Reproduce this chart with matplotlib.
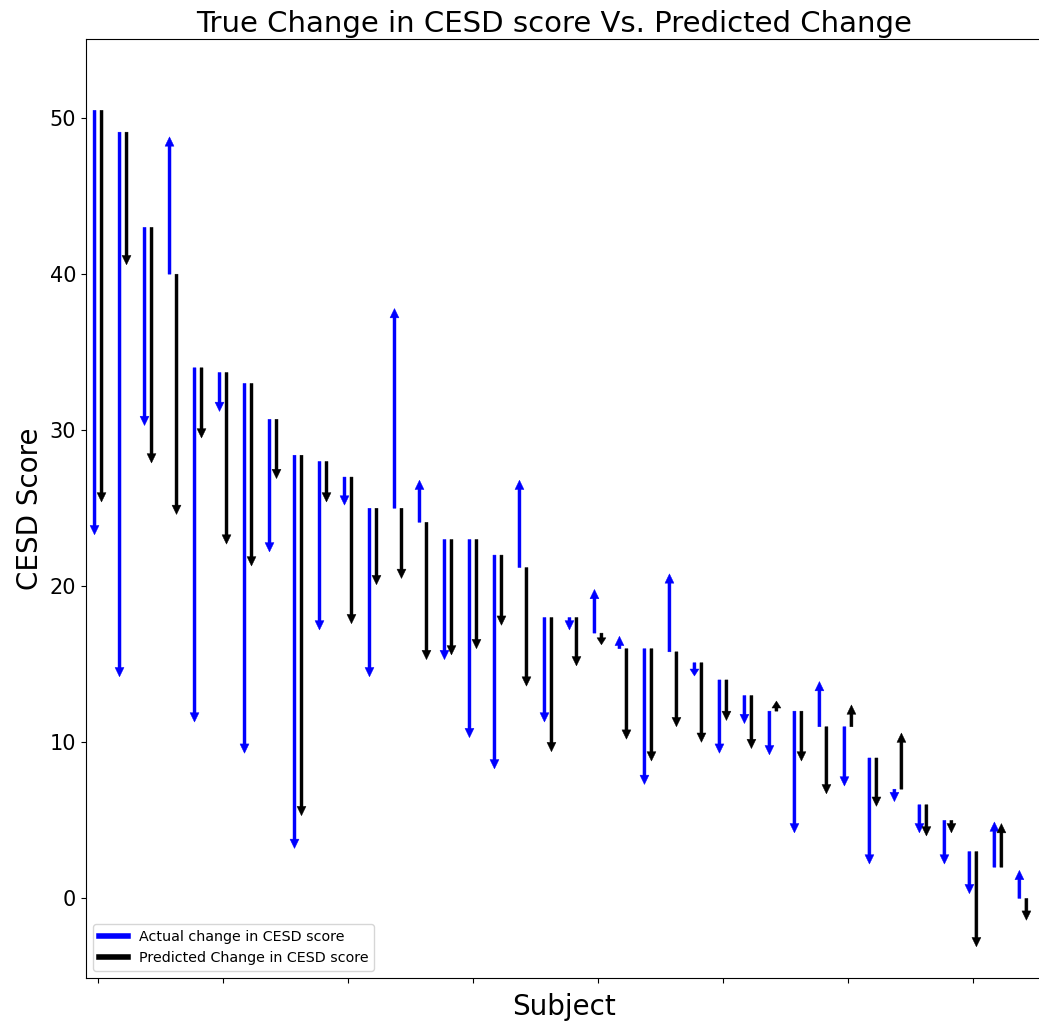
import numpy as np
import matplotlib
matplotlib.use("Agg")
import matplotlib.pyplot as plt
from matplotlib.lines import Line2D

# CESD score at baseline, actual follow-up score and model prediction per subject
baseline = [50.5, 49.1, 43.0, 40.0, 34.0, 33.7, 33.0, 30.7, 28.4, 28.0,
            27.0, 25.0, 25.0, 24.1, 23.0, 23.0, 22.0, 21.2, 18.0, 18.0,
            17.0, 16.0, 16.0, 15.8, 15.1, 14.0, 13.0, 12.0, 12.0, 11.0,
            11.0, 9.0, 7.0, 6.0, 5.0, 3.0, 2.0, 0.0]
actual = [23.3, 14.2, 30.3, 48.8, 11.3, 31.2, 9.3, 22.2, 3.2, 17.2,
          25.2, 14.2, 37.8, 26.8, 15.3, 10.3, 8.3, 26.8, 11.3, 17.2,
          19.8, 16.8, 7.3, 20.8, 14.7, 9.3, 11.2, 9.2, 4.2, 13.9,
          7.2, 2.2, 6.2, 4.2, 2.2, 0.3, 4.9, 1.8]
predicted = [25.4, 40.6, 27.9, 24.6, 29.5, 22.7, 21.3, 26.9, 5.3, 25.4,
             17.6, 20.1, 20.5, 15.3, 15.6, 16.0, 17.5, 13.6, 9.4, 14.9,
             16.7, 10.2, 8.8, 11.0, 10.0, 11.4, 9.6, 12.2, 8.8, 6.7,
             12.4, 5.9, 10.6, 4.0, 4.2, -3.1, 4.8, -1.4]

subjects = np.arange(len(baseline))


def draw_change(ax, x, y0, y1, color):
    dy = y1 - y0
    if abs(dy) < 0.6:
        # very small change: keep a full head past the end point
        ax.arrow(x, y0, 0, dy, width=0.12, head_width=0.36, head_length=0.45,
                 length_includes_head=False, color=color, lw=0.3)
    else:
        ax.arrow(x, y0, 0, dy, width=0.12, head_width=0.36, head_length=0.6,
                 length_includes_head=True, color=color, lw=0.3)


fig = plt.figure(figsize=(10.39, 10.27), dpi=100)
ax = fig.add_axes([0.0828, 0.0477, 0.920, 0.9148])

for i in subjects:
    draw_change(ax, i - 0.14, baseline[i], actual[i], 'blue')
    draw_change(ax, i + 0.14, baseline[i], predicted[i], 'black')

ax.set_xlim(-0.48, 37.76)
ax.set_ylim(-5.1, 55.1)
ax.set_xticks(np.arange(0, 36, 5))
ax.set_xticklabels([])
ax.set_yticks([0, 10, 20, 30, 40, 50])
ax.tick_params(axis='y', labelsize=15)

ax.set_title('True Change in CESD score Vs. Predicted Change', fontsize=21, pad=5, x=0.49)
ax.set_ylabel('CESD Score', fontsize=20)
ax.set_xlabel('Subject', fontsize=20)

handles = [Line2D([0], [0], color='blue', lw=4),
           Line2D([0], [0], color='black', lw=4)]
ax.legend(handles, ['Actual change in CESD score', 'Predicted Change in CESD score'],
          loc='lower left', fontsize=10.3)

fig.savefig('out.png', dpi=100)
